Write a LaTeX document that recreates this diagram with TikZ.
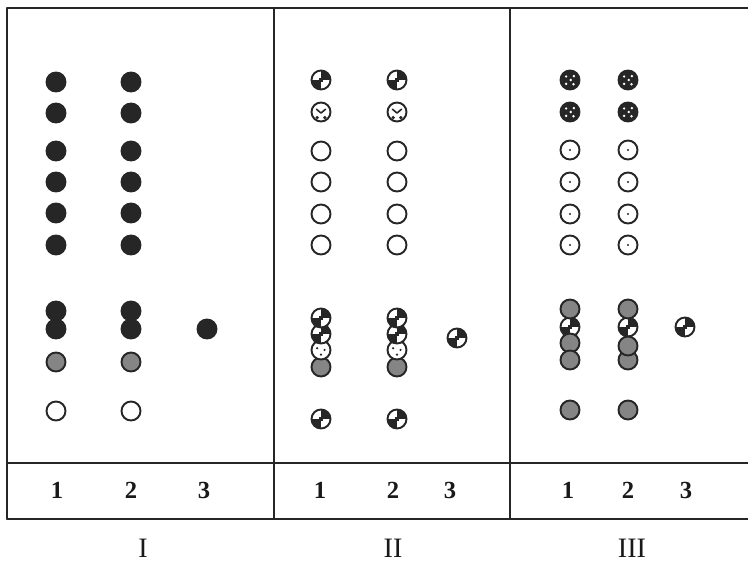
\documentclass[tikz,border=0pt]{standalone}
\usepackage{fontspec}
\setmainfont{Liberation Serif}
\begin{document}
\begin{tikzpicture}[x=0.02cm,y=-0.02cm,line cap=round,line join=round,
  frame/.style={draw=black!85,line width=1pt},
  ball/.style={circle,draw=black!85,line width=1.1pt,inner sep=0pt,minimum size=0.38cm},
  solidball/.style={ball,fill=black!85},
  openball/.style={ball,fill=white},
  greyball/.style={ball,fill=black!48},
  checkball/.style={ball,fill=white,path picture={
    \fill[black!85] (path picture bounding box.center) rectangle (path picture bounding box.north east);
    \fill[black!85] (path picture bounding box.center) rectangle (path picture bounding box.south west);
    \fill[black!85] ([shift={(-1pt,-1.2pt)}]path picture bounding box.center) rectangle ([shift={(1.2pt,1pt)}]path picture bounding box.center);}},
  clockball/.style={ball,fill=white,path picture={
    \draw[black!85,line width=0.9pt] ([shift={(-2.6pt,1.6pt)}]path picture bounding box.center) -- ([shift={(0pt,-0.6pt)}]path picture bounding box.center) -- ([shift={(2.6pt,1.6pt)}]path picture bounding box.center);
    \fill[black!85] ([shift={(-2.2pt,-3.2pt)}]path picture bounding box.center) circle (1pt);
    \fill[black!85] ([shift={(2.2pt,-3.2pt)}]path picture bounding box.center) circle (1pt);}},
  spotball/.style={ball,fill=white,path picture={
    \fill[black!85] ([shift={(-2.2pt,1pt)}]path picture bounding box.center) circle (0.7pt);
    \fill[black!85] ([shift={(2pt,0pt)}]path picture bounding box.center) circle (0.7pt);
    \fill[black!85] ([shift={(0pt,-2.6pt)}]path picture bounding box.center) circle (0.7pt);}},
  darkdotball/.style={ball,fill=black!85,path picture={
    \fill[white] ([shift={(-2.2pt,2pt)}]path picture bounding box.center) circle (0.75pt);
    \fill[white] ([shift={(2.2pt,2.2pt)}]path picture bounding box.center) circle (0.75pt);
    \fill[white] ([shift={(0.4pt,0pt)}]path picture bounding box.center) circle (0.75pt);
    \fill[white] ([shift={(-2.2pt,-2.2pt)}]path picture bounding box.center) circle (0.75pt);
    \fill[white] ([shift={(2pt,-2.4pt)}]path picture bounding box.center) circle (0.75pt);}},
  centreball/.style={ball,fill=white,path picture={
    \fill[black!85] (path picture bounding box.center) circle (0.7pt);}},
  numlabel/.style={font=\fontsize{14}{16}\selectfont\bfseries,text=black!90},
  panellabel/.style={font=\fontsize{16}{18}\selectfont,text=black!90}]
\useasboundingbox (0,0) rectangle (748,563);
% table frame
\draw[frame] (7,8) -- (748,8);
\draw[frame] (7,8) -- (7,519);
\draw[frame] (274,8) -- (274,519);
\draw[frame] (510,8) -- (510,519);
\draw[frame] (7,463) -- (748,463);
\draw[frame] (7,519) -- (748,519);
% panel I
\node[solidball] (I1-1) at (56,82) {};
\node[solidball] (I1-2) at (56,113) {};
\node[solidball] (I1-3) at (56,151) {};
\node[solidball] (I1-4) at (56,182) {};
\node[solidball] (I1-5) at (56,213) {};
\node[solidball] (I1-6) at (56,245) {};
\node[solidball] (I1-7) at (56,311) {};
\node[solidball] (I1-8) at (56,329) {};
\node[greyball] (I1-9) at (56,362) {};
\node[openball] (I1-10) at (56,411) {};
\node[solidball] (I2-1) at (131,82) {};
\node[solidball] (I2-2) at (131,113) {};
\node[solidball] (I2-3) at (131,151) {};
\node[solidball] (I2-4) at (131,182) {};
\node[solidball] (I2-5) at (131,213) {};
\node[solidball] (I2-6) at (131,245) {};
\node[solidball] (I2-7) at (131,311) {};
\node[solidball] (I2-8) at (131,329) {};
\node[greyball] (I2-9) at (131,362) {};
\node[openball] (I2-10) at (131,411) {};
\node[solidball] (I3-1) at (207,329) {};
% panel II
\node[checkball] (II1-1) at (321,80) {};
\node[clockball] (II1-2) at (321,112) {};
\node[openball] (II1-3) at (321,151) {};
\node[openball] (II1-4) at (321,182) {};
\node[openball] (II1-5) at (321,214) {};
\node[openball] (II1-6) at (321,245) {};
\node[greyball] (II1-10) at (321,367) {};
\node[spotball] (II1-9) at (321,350) {};
\node[checkball] (II1-8) at (321,334) {};
\node[checkball] (II1-7) at (321,318) {};
\node[checkball] (II1-11) at (321,419) {};
\node[checkball] (II2-1) at (397,80) {};
\node[clockball] (II2-2) at (397,112) {};
\node[openball] (II2-3) at (397,151) {};
\node[openball] (II2-4) at (397,182) {};
\node[openball] (II2-5) at (397,214) {};
\node[openball] (II2-6) at (397,245) {};
\node[greyball] (II2-10) at (397,367) {};
\node[spotball] (II2-9) at (397,350) {};
\node[checkball] (II2-8) at (397,334) {};
\node[checkball] (II2-7) at (397,318) {};
\node[checkball] (II2-11) at (397,419) {};
\node[checkball] (II3-1) at (457,338) {};
% panel III
\node[darkdotball] (III1-1) at (570,80) {};
\node[darkdotball] (III1-2) at (570,112) {};
\node[centreball] (III1-3) at (570,150) {};
\node[centreball] (III1-4) at (570,182) {};
\node[centreball] (III1-5) at (570,214) {};
\node[centreball] (III1-6) at (570,245) {};
\node[checkball] (III1-8) at (570,327) {};
\node[greyball] (III1-7) at (570,309) {};
\node[greyball] (III1-9) at (570,343) {};
\node[greyball] (III1-10) at (570,360) {};
\node[greyball] (III1-11) at (570,410) {};
\node[darkdotball] (III2-1) at (628,80) {};
\node[darkdotball] (III2-2) at (628,112) {};
\node[centreball] (III2-3) at (628,150) {};
\node[centreball] (III2-4) at (628,182) {};
\node[centreball] (III2-5) at (628,214) {};
\node[centreball] (III2-6) at (628,245) {};
\node[checkball] (III2-8) at (628,327) {};
\node[greyball] (III2-7) at (628,309) {};
\node[greyball] (III2-10) at (628,360) {};
\node[greyball] (III2-9) at (628,346) {};
\node[greyball] (III2-11) at (628,410) {};
\node[checkball] (III3-1) at (685,327) {};
% column numbers
\node[numlabel] (nI1) at (57,490) {1};
\node[numlabel] (nI2) at (131,490) {2};
\node[numlabel] (nI3) at (204,490) {3};
\node[numlabel] (nII1) at (320,490) {1};
\node[numlabel] (nII2) at (393,490) {2};
\node[numlabel] (nII3) at (450,490) {3};
\node[numlabel] (nIII1) at (568,490) {1};
\node[numlabel] (nIII2) at (628,490) {2};
\node[numlabel] (nIII3) at (686,490) {3};
% panel names
\node[panellabel] (pI) at (143,548) {I};
\node[panellabel] (pII) at (393,548) {II};
\node[panellabel] (pIII) at (632,548) {III};
\end{tikzpicture}
\end{document}
